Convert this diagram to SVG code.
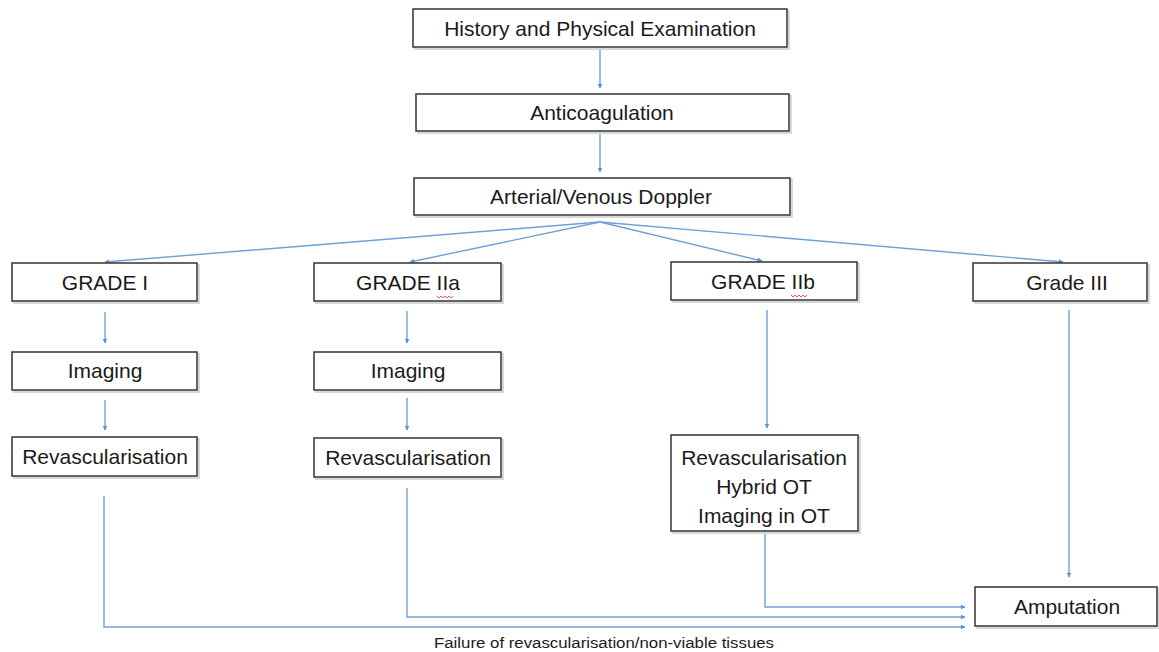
<svg xmlns="http://www.w3.org/2000/svg" width="1159" height="652" viewBox="0 0 1159 652">
<defs>
<style>
.box{fill:#fff;stroke:#333;stroke-width:1.5}
.sh{fill:none;stroke:#d8d8d8;stroke-width:2}
.t{font-family:"Liberation Sans",Arial,sans-serif;font-size:21px;fill:#1a1a1a;text-anchor:middle}
.c{fill:none;stroke:#6fa0d6;stroke-width:1.4}
.sq{fill:none;stroke:#e03030;stroke-width:0.8}
</style>
<marker id="ah" viewBox="0 0 10 10" refX="9" refY="5" markerWidth="5" markerHeight="5" orient="auto" markerUnits="userSpaceOnUse">
<path d="M0,0 L10,5 L0,10 z" fill="#5b93d0"/>
</marker>
</defs>
<rect width="1159" height="652" fill="#fff"/>
<g id="connectors">
<line class="c" x1="600" y1="47" x2="600" y2="88" marker-end="url(#ah)"/>
<line class="c" x1="600" y1="131" x2="600" y2="172" marker-end="url(#ah)"/>
<line class="c" x1="600" y1="222" x2="105" y2="262" marker-end="url(#ah)"/>
<line class="c" x1="600" y1="222" x2="410" y2="262" marker-end="url(#ah)"/>
<line class="c" x1="600" y1="222" x2="762" y2="261" marker-end="url(#ah)"/>
<line class="c" x1="600" y1="222" x2="1063" y2="262" marker-end="url(#ah)"/>
<line class="c" x1="105" y1="312" x2="105" y2="343" marker-end="url(#ah)"/>
<line class="c" x1="105" y1="400" x2="105" y2="430" marker-end="url(#ah)"/>
<line class="c" x1="407" y1="311" x2="407" y2="343" marker-end="url(#ah)"/>
<line class="c" x1="407" y1="398" x2="407" y2="430" marker-end="url(#ah)"/>
<line class="c" x1="767" y1="310" x2="767" y2="428" marker-end="url(#ah)"/>
<line class="c" x1="1069" y1="310" x2="1069" y2="577" marker-end="url(#ah)"/>
<polyline class="c" points="765,531 765,607 965,607" marker-end="url(#ah)"/>
<polyline class="c" points="407,488 407,617 965,617" marker-end="url(#ah)"/>
<polyline class="c" points="104,496 104,627 965,627" marker-end="url(#ah)"/>
</g>
<g id="n-history"><rect class="sh" x="415" y="11" width="374" height="38"/><rect class="box" x="413" y="9" width="374" height="38"/><text class="t" x="600" y="36">History and Physical Examination</text></g>
<g id="n-anticoag"><rect class="sh" x="418" y="96" width="373" height="37"/><rect class="box" x="416" y="94" width="373" height="37"/><text class="t" x="602" y="120">Anticoagulation</text></g>
<g id="n-doppler"><rect class="sh" x="416" y="180" width="376" height="37"/><rect class="box" x="414" y="178" width="376" height="37"/><text class="t" x="601" y="204">Arterial/Venous Doppler</text></g>
<g id="n-grade1"><rect class="sh" x="14" y="265" width="185" height="38"/><rect class="box" x="12" y="263" width="185" height="38"/><text class="t" x="105" y="290">GRADE I</text></g>
<g id="n-grade2a"><rect class="sh" x="316" y="265" width="187" height="38"/><rect class="box" x="314" y="263" width="187" height="38"/><text class="t" x="408" y="290">GRADE IIa</text><path class="sq" d="M437,296 l2,2 l2,-2 l2,2 l2,-2 l2,2 l2,-2 l2,2 l2,-2"/></g>
<g id="n-grade2b"><rect class="sh" x="673" y="264" width="186" height="38"/><rect class="box" x="671" y="262" width="186" height="38"/><text class="t" x="763" y="289">GRADE IIb</text><path class="sq" d="M791,295 l2,2 l2,-2 l2,2 l2,-2 l2,2 l2,-2 l2,2 l2,-2"/></g>
<g id="n-grade3"><rect class="sh" x="975" y="265" width="174" height="38"/><rect class="box" x="973" y="263" width="174" height="38"/><text class="t" x="1067" y="290">Grade III</text></g>
<g id="n-img1"><rect class="sh" x="14" y="354" width="185" height="38"/><rect class="box" x="12" y="352" width="185" height="38"/><text class="t" x="105" y="378">Imaging</text></g>
<g id="n-img2a"><rect class="sh" x="316" y="354" width="187" height="38"/><rect class="box" x="314" y="352" width="187" height="38"/><text class="t" x="408" y="378">Imaging</text></g>
<g id="n-rev1"><rect class="sh" x="14" y="439" width="185" height="39"/><rect class="box" x="12" y="437" width="185" height="39"/><text class="t" x="105" y="464">Revascularisation</text></g>
<g id="n-rev2a"><rect class="sh" x="316" y="440" width="187" height="39"/><rect class="box" x="314" y="438" width="187" height="39"/><text class="t" x="408" y="465">Revascularisation</text></g>
<g id="n-rev2b"><rect class="sh" x="673" y="437" width="187" height="96"/><rect class="box" x="671" y="435" width="187" height="96"/><text class="t" x="764" y="465">Revascularisation</text><text class="t" x="764" y="494">Hybrid OT</text><text class="t" x="764" y="523">Imaging in OT</text></g>
<g id="n-amputation"><rect class="sh" x="977" y="589" width="182" height="39"/><rect class="box" x="975" y="587" width="182" height="39"/><text class="t" x="1067" y="614">Amputation</text></g>
<text id="label-failure" x="604" y="648" textLength="340" lengthAdjust="spacingAndGlyphs" style="font-family:'Liberation Sans',Arial,sans-serif;font-size:14px;fill:#1a1a1a;text-anchor:middle">Failure of revascularisation/non-viable tissues</text>
</svg>
